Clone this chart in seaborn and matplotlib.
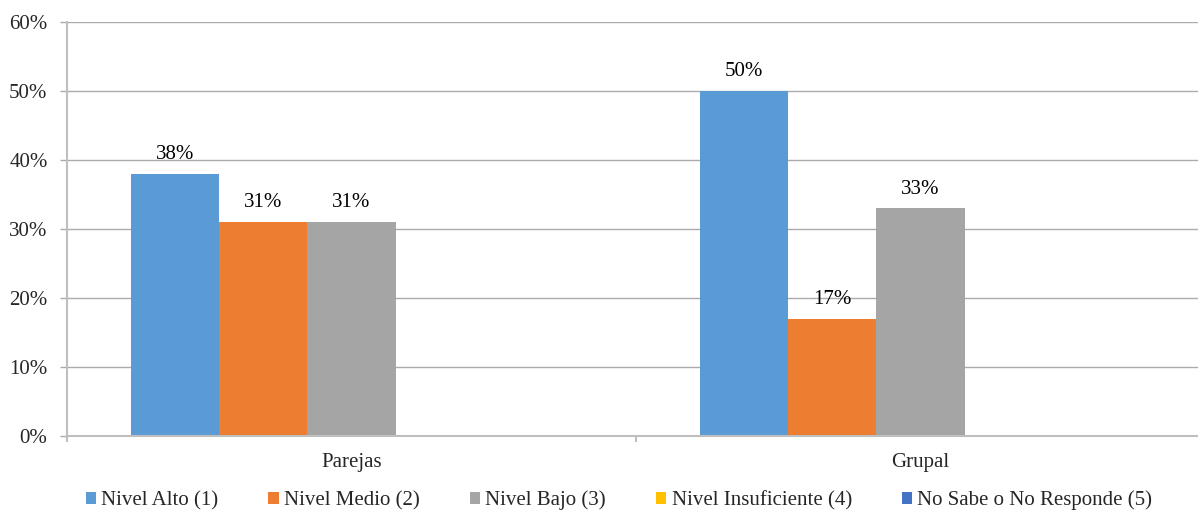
import matplotlib
matplotlib.use("Agg")
import matplotlib.pyplot as plt
import seaborn as sns
import pandas as pd
from matplotlib.ticker import FuncFormatter, MultipleLocator
from matplotlib.patches import Patch

categories = ["Parejas", "Grupal"]
series = ["Nivel Alto (1)", "Nivel Medio (2)", "Nivel Bajo (3)",
          "Nivel Insuficiente (4)", "No Sabe o No Responde (5)"]
parejas = [38, 31, 31, 0, 0]
grupal = [50, 17, 33, 0, 0]
colors = ["#5B9BD5", "#ED7D31", "#A5A5A5", "#FFC000", "#4472C4"]

rows = []
for cat, vals in zip(categories, [parejas, grupal]):
    for s, v in zip(series, vals):
        rows.append({"cat": cat, "serie": s, "val": v})
df = pd.DataFrame(rows)

sns.set_theme(style="white")
plt.rcParams["font.family"] = ["Liberation Serif", "DejaVu Serif"]
FS = 15

fig = plt.figure(figsize=(11.98, 5.13), dpi=100)
ax = fig.add_axes([0.0559, 0.150, 0.950, 0.807])

sns.barplot(data=df, x="cat", y="val", hue="serie", hue_order=series,
            palette=colors, width=0.775, dodge=True, saturation=1,
            linewidth=0, ax=ax, legend=False)

# value labels for the non-empty bars
for container in ax.containers:
    for bar in container:
        h = bar.get_height()
        if h > 0:
            ax.annotate(f"{h:.0f}%", (bar.get_x() + bar.get_width() / 2, h),
                        xytext=(0, 7), textcoords="offset points",
                        ha="center", va="bottom", fontsize=FS, color="#000000")

ax.set_ylim(0, 60)
ax.set_xlim(-0.5, 1.5)
ax.yaxis.set_major_locator(MultipleLocator(10))
ax.yaxis.set_major_formatter(FuncFormatter(lambda v, p: f"{v:.0f}%"))
ax.grid(axis="y", color="#ababab", linewidth=1)
ax.set_axisbelow(True)

ax.set_xlabel("")
ax.set_ylabel("")
for side in ["top", "right"]:
    ax.spines[side].set_visible(False)
ax.spines["left"].set_color("#bfbfbf")
ax.spines["bottom"].set_color("#bfbfbf")
ax.spines["left"].set_linewidth(1.5)
ax.spines["bottom"].set_linewidth(1.5)

# category labels centered, tick marks at the boundaries
ax.set_xticks([0, 1])
ax.set_xticklabels(categories, fontsize=FS)
ax.tick_params(axis="x", length=0, pad=12)
ax.set_xticks([-0.5, 0.5, 1.5], minor=True)
ax.tick_params(axis="x", which="minor", bottom=True, length=4, width=1.5,
               color="#bfbfbf", direction="out")
ax.tick_params(axis="y", left=True, length=5, width=1, color="#ababab",
               direction="out", labelsize=FS, pad=9)

handles = [Patch(facecolor=c, edgecolor="none") for c in colors]
ax.legend(handles, series, loc="center", bbox_to_anchor=(0.485, -0.155),
          ncol=5, frameon=False, fontsize=FS, handlelength=0.5,
          handleheight=0.5, handletextpad=0.25, columnspacing=2.4)

fig.savefig("out.png", dpi=100)
